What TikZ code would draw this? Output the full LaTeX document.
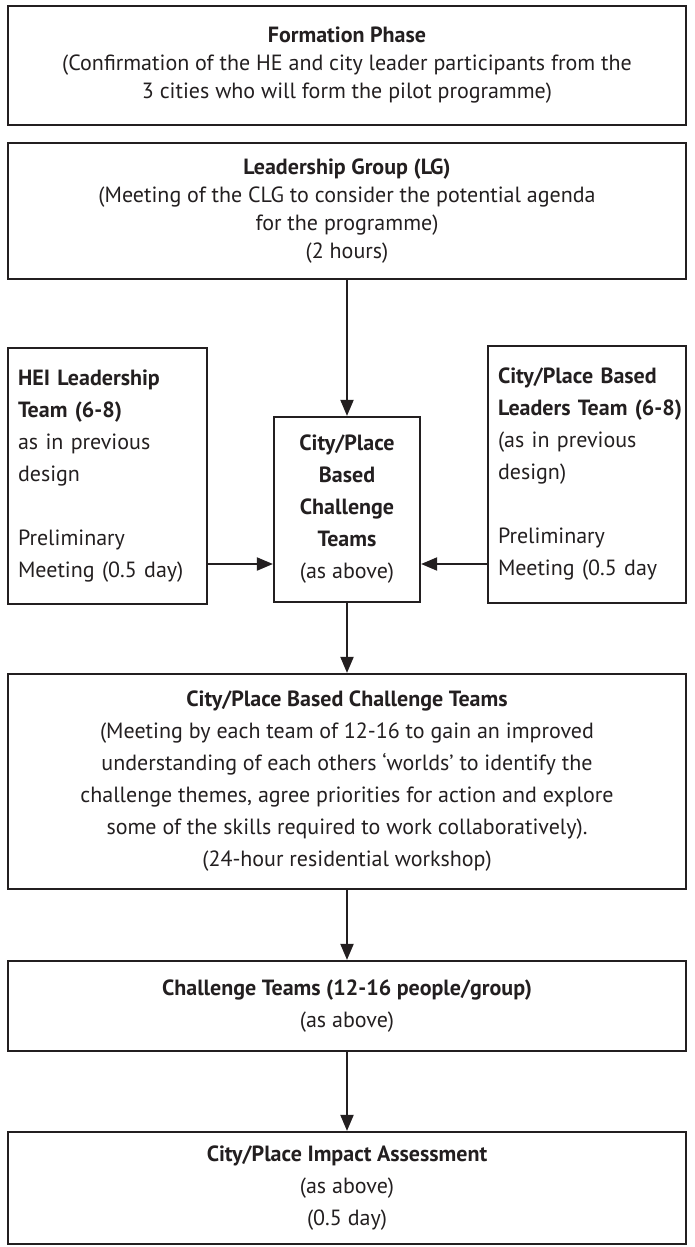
\documentclass[tikz,border=0pt]{standalone}
\usepackage{fontspec}
\setmainfont{PT Sans}
\usetikzlibrary{arrows.meta}
\definecolor{ink}{HTML}{231F20}
\begin{document}
\begin{tikzpicture}[x=1pt,y=-1pt,
  box/.style={draw=ink, line width=2.2pt, inner sep=0pt, align=center, text=ink},
  tight/.style={font=\fontsize{22}{28}\selectfont},
  loose/.style={font=\fontsize{22}{32}\selectfont},
  arr/.style={draw=ink, line width=2pt, -{Triangle[length=16pt,width=13pt]}}]
\useasboundingbox (0,0) rectangle (694,1247);

% top row boxes
\node[box, tight, minimum width=678pt, minimum height=119pt] (form) at (347,65.5)
  {\textbf{Formation Phase}\\
   (Confirmation of the HE and city leader participants from the\\
   3 cities who will form the pilot programme)};
\node[box, tight, minimum width=678pt, minimum height=136pt] (lg) at (347,211)
  {\textbf{Leadership Group (LG)}\\
   (Meeting of the CLG to consider the potential agenda\\
   for the programme)\\
   (2 hours)};

% middle row
\node[box, loose, align=left, text width=179pt, inner xsep=10pt, minimum height=256pt] (hei) at (107.5,476)
  {\textbf{HEI Leadership}\\
   \textbf{Team (6-8)}\\
   as in previous\\
   design\\[32pt]
   Preliminary\\
   Meeting (0.5 day)};
\node[box, loose, minimum width=146pt, minimum height=185pt] (cpb) at (347,509.5)
  {\textbf{City/Place}\\
   \textbf{Based}\\
   \textbf{Challenge}\\
   \textbf{Teams}\\
   (as above)};
\node[box, loose, align=left, text width=178pt, inner xsep=10pt, minimum height=257pt] (city) at (587,474.5)
  {\textbf{City/Place Based}\\
   \mbox{\textbf{Leaders Team (6-8)}}\\
   (as in previous\\
   design)\\[32pt]
   Preliminary\\
   Meeting (0.5 day};

% lower boxes
\node[box, loose, minimum width=678pt, minimum height=215pt] (ct) at (347,781.5)
  {\textbf{City/Place Based Challenge Teams}\\
   (Meeting by each team of 12-16 to gain an improved\\
   understanding of each others `worlds' to identify the\\
   challenge themes, agree priorities for action and explore\\
   some of the skills required to work collaboratively).\\
   (24-hour residential workshop)};
\node[box, loose, minimum width=678pt, minimum height=90pt] (tm) at (347,1006)
  {\textbf{Challenge Teams (12-16 people/group)}\\
   (as above)};
\node[box, loose, minimum width=678pt, minimum height=112pt] (ia) at (347,1188)
  {\textbf{City/Place Impact Assessment}\\
   (as above)\\
   (0.5 day)};

% connectors
\coordinate (side) at (0,564);
\draw[arr] (lg.south) -- (cpb.north);
\draw[arr] (hei.east |- side) -- (cpb.west |- side);
\draw[arr] (city.west |- side) -- (cpb.east |- side);
\draw[arr] (cpb.south) -- (ct.north);
\draw[arr] (ct.south) -- (tm.north);
\draw[arr] (tm.south) -- (ia.north);
\end{tikzpicture}
\end{document}
